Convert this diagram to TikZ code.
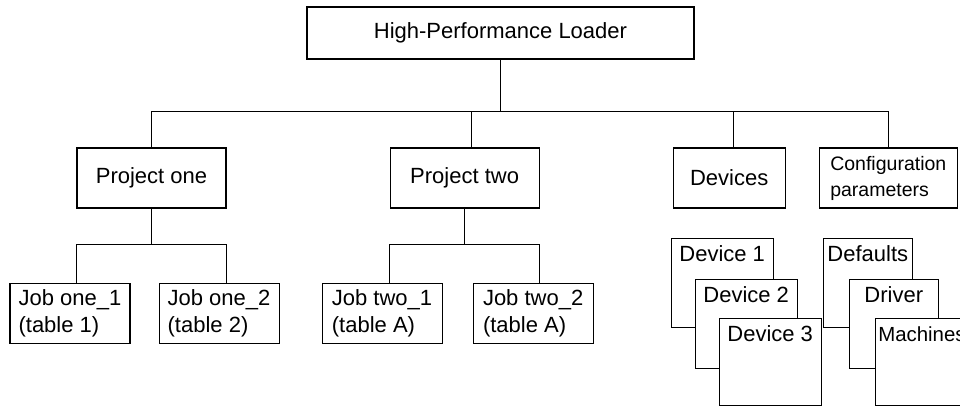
\documentclass[tikz,border=0pt]{standalone}
\usepackage{fontspec}
\setmainfont{Liberation Sans}
\usetikzlibrary{positioning, calc}

\begin{document}
\begin{tikzpicture}[
    x=1pt, y=1pt,
    font=\fontsize{11}{13.5}\selectfont,
    box/.style={draw, rectangle, line width=0.55pt, fill=white, minimum height=30pt, align=center},
    job/.style={box, minimum width=60pt, minimum height=29.5pt, align=left},
    stack/.style={draw, rectangle, line width=0.55pt, fill=white, anchor=north west, minimum width=51pt, inner xsep=2pt, inner ysep=3.5pt, text height=8pt, text depth=29.5pt},
    link/.style={line width=0.55pt}
]
    \useasboundingbox (0,0) rectangle (480,-203);
    \clip (0,0) rectangle (480,-203);

    \node[box, minimum width=193.5pt, minimum height=26pt] (hpl) at (250.25,-16.5) {High-Performance Loader};
    \node[box, minimum width=74.5pt] (p1) at (75.75,-89) {Project one};
    \node[box, minimum width=74.5pt, right=81.5pt of p1] (p2) {Project two};
    \node[box, minimum width=56pt, right=66.5pt of p2] (dev) {Devices};
    \node[box, minimum width=69pt, right=16.5pt of dev, align=left, font=\fontsize{9.75}{13}\selectfont] (conf) {Configuration\\parameters};

    \node[job, below=37pt of p1.south west, xshift=-3.25pt] (j11) {Job one\_1\\(table 1)};
    \node[job, right=14pt of j11] (j12) {Job one\_2\\(table 2)};
    \node[job, below=37pt of p2.south west, xshift=-3.75pt] (j21) {Job two\_1\\(table A)};
    \node[job, right=15pt of j21] (j22) {Job two\_2\\(table A)};

    \node[stack] (d1) at ([shift={(-1pt,-14.5pt)}]dev.south west) {Device 1};
    \node[stack] (d2) at ([shift={(12pt,-20.5pt)}]d1.north west) {Device 2};
    \node[stack, text depth=28.5pt] (d3) at ([shift={(12pt,-19.5pt)}]d2.north west) {Device 3};
    \node[stack, minimum width=44.5pt] (def) at ([shift={(2pt,-14.5pt)}]conf.south west) {Defaults};
    \node[stack, minimum width=44.5pt] (drv) at ([shift={(13pt,-20.5pt)}]def.north west) {Driver};
    \node[stack, minimum width=0pt, inner xsep=1.5pt, text depth=28.5pt, font=\fontsize{10.2}{13}\selectfont] (mach) at ([shift={(13pt,-19.5pt)}]drv.north west) {Machines};

    \coordinate[below=26pt of hpl.south] (bus);
    \coordinate[below=18pt of p1.south] (p1fork);
    \coordinate[below=18pt of p2.south] (p2fork);

    \draw[link] (hpl) -- (bus);
    \draw[link] (p1) |- (bus) -| (conf);
    \draw[link] ([xshift=3.5pt]p2.north) -- ([xshift=3.5pt]p2.north |- bus);
    \draw[link] ([xshift=2pt]dev.north) -- ([xshift=2pt]dev.north |- bus);
    \draw[link] (p1) -- (p1fork);
    \draw[link] (j11.north -| p1.west) |- (p1fork) -| (j12.north -| p1.east);
    \draw[link] (p2) -- (p2fork);
    \draw[link] (j21.north -| p2.west) |- (p2fork) -| (j22.north -| p2.east);
\end{tikzpicture}
\end{document}
